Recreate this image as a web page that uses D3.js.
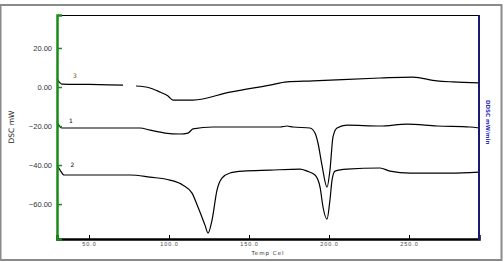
<!DOCTYPE html>
<html>
<head>
<meta charset="utf-8">
<script src="https://cdn.jsdelivr.net/npm/d3@7"></script>
<style>
  body { margin: 0; background: #fff; }
  svg { display: block; font-family: "DejaVu Sans", sans-serif; }
</style>
</head>
<body>
<div id="chart"></div>
<script>
// temperatures (Cel) and DSC values (mW)
var temp3 = [30, 33.1, 50, 71.25, 79.4, 88.1, 94.4, 99.4, 102.5, 115, 138.1, 163.1, 173.75, 190, 231.9, 252.5, 267.5, 277.5, 293.75];
var dsc3  = [4.1, 1.5, 1.3, 1.0, 0.5, -0.5, -2.6, -4.6, -6.7, -6.7, -2.6, 1.0, 2.6, 3.1, 4.6, 5.1, 3.1, 2.6, 2.1];
var gap3  = [71.25, 79.4];   // the trace has a break here

var temp1 = [30, 33.1, 81.9, 88.1, 97.5, 106.9, 111.9, 115, 127.5, 169.4, 173.75, 177.5, 188.1, 191.25, 193.1, 195.6, 198.75, 200.6, 202.5, 205, 211.25, 231.9, 248.75, 267.5, 288.1, 293.75];
var dsc1  = [-17.9, -21.0, -21.0, -22.1, -23.6, -24.1, -23.6, -21.5, -20.5, -20.5, -20.0, -20.5, -21.0, -23.6, -28.7, -40.0, -51.3, -42.6, -25.6, -21.0, -19.5, -20.0, -19.0, -20.0, -20.5, -21.0];

var temp2 = [30, 31.9, 34.4, 75.6, 88.1, 100.6, 108.75, 114.4, 118.1, 122.5, 124.4, 126.9, 130, 133.1, 138.1, 146.25, 163.1, 181.9, 186.25, 191.25, 194.4, 196.25, 198.75, 200.6, 201.9, 203.75, 211.25, 231.9, 238.1, 250.6, 275.6, 293.75];
var dsc2  = [-40.0, -42.6, -45.1, -45.1, -46.2, -47.7, -50.3, -54.4, -61.5, -70.8, -74.9, -68.2, -52.8, -46.7, -44.1, -43.1, -42.6, -42.1, -43.1, -45.1, -51.3, -61.5, -67.7, -57.9, -47.7, -43.1, -42.1, -41.5, -43.1, -44.1, -44.1, -43.6];

var curveNames = ["3", "1", "2"];
var yTicks = [20, 0, -20, -40, -60];
var xTicks = [50, 100, 150, 200, 250];

var width = 504, height = 262;
var pad = { left: 57, right: 25, top: 15, bottom: 23 };

var svg = d3.select('#chart')
  .append('svg')
  .attr('width', width)
  .attr('height', height);

// outer frame
svg.append('rect')
  .attr('x', 0.5).attr('y', 5)
  .attr('width', 501).attr('height', 255)
  .attr('fill', 'none')
  .attr('stroke', '#8a8a8a')
  .attr('stroke-width', 2);

var x = d3.scaleLinear()
  .domain([30, 293.75])
  .range([pad.left, width - pad.right]);

var y = d3.scaleLinear()
  .domain([-77.9, 36.9])
  .range([height - pad.bottom, pad.top]);

function makeSeries(t, v, gap){
  var pts = [];
  for(var i = 0; i < t.length; i++){
    pts.push({ t: t[i], v: v[i] });
    if(gap && t[i] === gap[0]) pts.push({ t: null, v: null });
  }
  return pts;
}

var series = [
  makeSeries(temp3, dsc3, gap3),
  makeSeries(temp1, dsc1),
  makeSeries(temp2, dsc2)
];

var line = d3.line()
  .defined(function(d){ return d.t !== null; })
  .x(function(d){ return x(d.t); })
  .y(function(d){ return y(d.v); })
  .curve(d3.curveMonotoneX);

// top border of plot
svg.append('line')
  .attr('x1', x(30)).attr('x2', x(293.75))
  .attr('y1', pad.top + .5).attr('y2', pad.top + .5)
  .attr('stroke', '#000').attr('stroke-width', 1);

series.forEach(function(s){
  svg.append('path')
    .attr('d', line(s))
    .attr('fill', 'none')
    .attr('stroke', '#000')
    .attr('stroke-width', 1.2);
});

// curve numbers next to the start of each trace
var labelAt = [{ t: 40, v: 4.5 }, { t: 37.5, v: -18.5 }, { t: 38.5, v: -41 }];
svg.selectAll('.cname')
  .data(curveNames)
  .enter()
  .append('text')
  .attr('x', function(d, i){ return x(labelAt[i].t); })
  .attr('y', function(d, i){ return y(labelAt[i].v); })
  .attr('font-size', 6)
  .attr('fill', function(d){ return d === '3' ? '#7a4a00' : '#000'; })
  .text(function(d){ return d; });

// bottom axis
var xAxis = svg.append("g")
  .attr("transform", "translate(0," + (height - pad.bottom) + ")")
  .call(d3.axisBottom(x).tickValues(xTicks).tickSize(-4).tickPadding(3)
    .tickFormat(function(d){ return d3.format('.1f')(d); }));
xAxis.select('.domain').attr('stroke-width', 2.5);
xAxis.selectAll('text').attr('font-size', 5.5).attr('fill', '#444').attr('letter-spacing', 1);

// left axis
var yAxis = svg.append("g")
  .attr("transform", "translate(" + pad.left + ",0)")
  .call(d3.axisLeft(y).tickValues(yTicks).tickSize(-5).tickPadding(5)
    .tickFormat(function(d){ return d3.format('.2f')(d); }));
yAxis.select('.domain').attr('stroke', '#1a8a1a').attr('stroke-width', 2.5);
yAxis.selectAll('.tick line').attr('stroke', '#1a8a1a').attr('stroke-width', 1.5);
yAxis.selectAll('text').attr('font-size', 7.5).attr('fill', '#333');

// right axis
svg.append('line')
  .attr('x1', x(293.75)).attr('x2', x(293.75))
  .attr('y1', pad.top).attr('y2', height - pad.bottom + 1)
  .attr('stroke', '#1a1a70').attr('stroke-width', 2);

// axis titles
svg.append('text')
  .attr('transform', 'translate(14,' + y(-20.5) + ') rotate(-90)')
  .attr('text-anchor', 'middle')
  .attr('font-size', 7.5)
  .attr('fill', '#222')
  .text('DSC mW');

svg.append('text')
  .attr('x', 268).attr('y', 255)
  .attr('text-anchor', 'middle')
  .attr('font-size', 5.5)
  .attr('letter-spacing', 1)
  .attr('fill', '#333')
  .text('Temp Cel');

svg.append('text')
  .attr('transform', 'translate(486,' + y(-18) + ') rotate(90)')
  .attr('text-anchor', 'middle')
  .attr('font-size', 5.5)
  .attr('font-weight', 'bold')
  .attr('fill', '#2a2ab8')
  .text('DDSC mW/min');
</script>
</body>
</html>
